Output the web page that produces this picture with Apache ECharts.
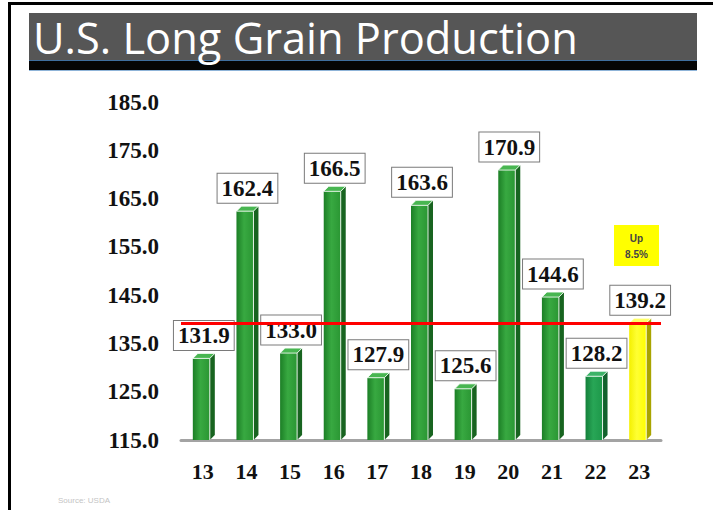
<!DOCTYPE html>
<html>
<head>
<meta charset="utf-8">
<script src="https://cdn.jsdelivr.net/npm/echarts@6/dist/echarts.min.js"></script>
<style>
  html, body { margin: 0; padding: 0; background: #ffffff; }
  #chart { width: 713px; height: 510px; }
</style>
</head>
<body>
<div id="chart"></div>
<script>
// Crop years (20xx) and long grain production, million cwt
const years = ['13', '14', '15', '16', '17', '18', '19', '20', '21', '22', '23'];
const production = [131.9, 162.4, 133.0, 166.5, 127.9, 163.6, 125.6, 170.9, 144.6, 128.2, 139.2];

// Value axis ticks
const yMin = 115;
const yMax = 185;
const yStep = 10;

// Horizontal reference at the latest crop level
const referenceLevel = 139.2;

// Note beside the latest crop
const changeNote = ['Up', '8.5%'];
const titleText = 'U.S. Long Grain Production';
const sourceText = 'Source: USDA';

const chart = echarts.init(document.getElementById('chart'), null, { renderer: 'svg' });

const GREEN = { light: '#38a941', mid: '#2a9633', dark: '#1c7f26', side: '#186420', top: '#48b651' };
const TEAL = { light: '#28a656', mid: '#1d984a', dark: '#14803b', side: '#12622d', top: '#3cb368' };
const YELLOW = { light: '#ffff33', mid: '#ffff00', dark: '#f4f000', side: '#a9a400', top: '#ffff66' };

function palette(i) {
  if (i === production.length - 1) return YELLOW;
  if (i === 9) return TEAL;
  return GREEN;
}

// Draws one pseudo-3D column
function renderColumn(params, api) {
  const i = params.dataIndex;
  const top = api.coord([api.value(0), api.value(1)]);
  const base = api.coord([api.value(0), yMin]);
  const cx = top[0];
  const fl = cx - 10, fr = cx + 7;
  const d = 5, dy = 5;
  const yTop = top[1], yBot = base[1];
  const p = palette(i);
  return {
    type: 'group',
    children: [
      {
        type: 'polygon',
        shape: { points: [[fr, yTop], [fr + d, yTop - dy], [fr + d, yBot - dy], [fr, yBot]] },
        style: { fill: p.side }
      },
      {
        type: 'rect',
        shape: { x: fl, y: yTop, width: fr - fl, height: yBot - yTop },
        style: {
          fill: new echarts.graphic.LinearGradient(0, 0, 1, 0, [
            { offset: 0, color: p.dark },
            { offset: 0.45, color: p.light },
            { offset: 1, color: p.mid }
          ])
        }
      },
      {
        type: 'line',
        shape: { x1: fr, y1: yTop, x2: fr, y2: yBot },
        style: { stroke: 'rgba(255,255,255,0.85)', lineWidth: 1 }
      },
      {
        type: 'polygon',
        shape: { points: [[fl, yTop], [fr, yTop], [fr + d, yTop - dy], [fl + d, yTop - dy]] },
        style: { fill: p.top, stroke: '#ffffff', lineWidth: 0.8 }
      }
    ]
  };
}

// Boxed value label above each column
function renderValueLabel(params, api) {
  const v = api.value(1);
  const top = api.coord([api.value(0), v]);
  return {
    type: 'text',
    style: {
      text: v.toFixed(1),
      x: top[0] + 1,
      y: top[1] - 23,
      align: 'center',
      verticalAlign: 'middle',
      font: 'bold 23px "Liberation Serif"',
      fill: '#111111',
      backgroundColor: '#ffffff',
      borderColor: '#7a7a7a',
      borderWidth: 1,
      padding: [5, 4, 1, 4]
    }
  };
}

// Fit the title into its banner width
function titleScale(font, target) {
  const c = document.createElement('canvas').getContext('2d');
  c.font = font;
  return target / c.measureText(titleText).width;
}
const titleFont = '44px "Open Sans"';
const tScale = titleScale(titleFont, 545);

const points = production.map((v, i) => [i, v]);

chart.setOption({
  animation: false,
  backgroundColor: '#ffffff',
  grid: { left: 181, right: 52, top: 102, bottom: 70 },
  xAxis: {
    type: 'category',
    data: years,
    boundaryGap: true,
    axisLine: { show: true, lineStyle: { color: '#a3a3a3', width: 3 } },
    axisTick: { show: false },
    axisLabel: {
      margin: 20,
      color: '#111111',
      fontFamily: 'Liberation Serif',
      fontWeight: 'bold',
      fontSize: 22
    }
  },
  yAxis: {
    type: 'value',
    min: yMin,
    max: yMax,
    interval: yStep,
    axisLine: { show: false },
    axisTick: { show: false },
    splitLine: { show: false },
    axisLabel: {
      margin: 22,
      color: '#111111',
      fontFamily: 'Liberation Serif',
      fontWeight: 'bold',
      fontSize: 23,
      formatter: v => v.toFixed(1)
    }
  },
  series: [
    {
      type: 'custom',
      renderItem: renderValueLabel,
      encode: { x: 0, y: 1 },
      data: points,
      z: 2
    },
    {
      type: 'line',
      data: [],
      z: 3,
      markLine: {
        silent: true,
        symbol: 'none',
        label: { show: false },
        lineStyle: { color: '#ff0000', width: 3, type: 'solid' },
        data: [{ yAxis: referenceLevel }]
      }
    },
    {
      type: 'custom',
      renderItem: renderColumn,
      encode: { x: 0, y: 1 },
      data: points,
      z: 4
    }
  ],
  graphic: [
    // page frame
    { type: 'rect', shape: { x: 8, y: 2, width: 705, height: 3 }, style: { fill: '#000' }, silent: true },
    { type: 'rect', shape: { x: 8, y: 2, width: 3, height: 508 }, style: { fill: '#000' }, silent: true },
    // title banner
    { type: 'rect', shape: { x: 29, y: 13, width: 668, height: 48 }, style: { fill: '#565656' }, silent: true },
    { type: 'rect', shape: { x: 29, y: 60, width: 668, height: 10 }, style: { fill: '#050505' }, silent: true },
    { type: 'rect', shape: { x: 29, y: 60, width: 668, height: 1 }, style: { fill: '#3f6f9f' }, silent: true },
    { type: 'rect', shape: { x: 29, y: 70, width: 668, height: 1 }, style: { fill: '#8fb4d8' }, silent: true },
    {
      type: 'text', x: 33, y: 37, scaleX: tScale, silent: true,
      style: { text: titleText, font: titleFont, fill: '#ffffff', verticalAlign: 'middle', align: 'left' }
    },
    // change note
    { type: 'rect', shape: { x: 614, y: 225, width: 45, height: 41 }, style: { fill: '#ffff00' }, silent: true, z: 20 },
    {
      type: 'text', x: 636.5, y: 238, silent: true, z: 21,
      style: { text: changeNote[0], font: 'bold 10px "Liberation Sans"', fill: '#444444', align: 'center', verticalAlign: 'middle' }
    },
    {
      type: 'text', x: 636.5, y: 254, silent: true, z: 21,
      style: { text: changeNote[1], font: 'bold 10px "Liberation Sans"', fill: '#444444', align: 'center', verticalAlign: 'middle' }
    },
    // source line
    {
      type: 'text', x: 58, y: 500, silent: true,
      style: { text: sourceText, font: '8px "Liberation Sans"', fill: '#c4c4c4', verticalAlign: 'middle' }
    }
  ]
});
</script>
</body>
</html>
